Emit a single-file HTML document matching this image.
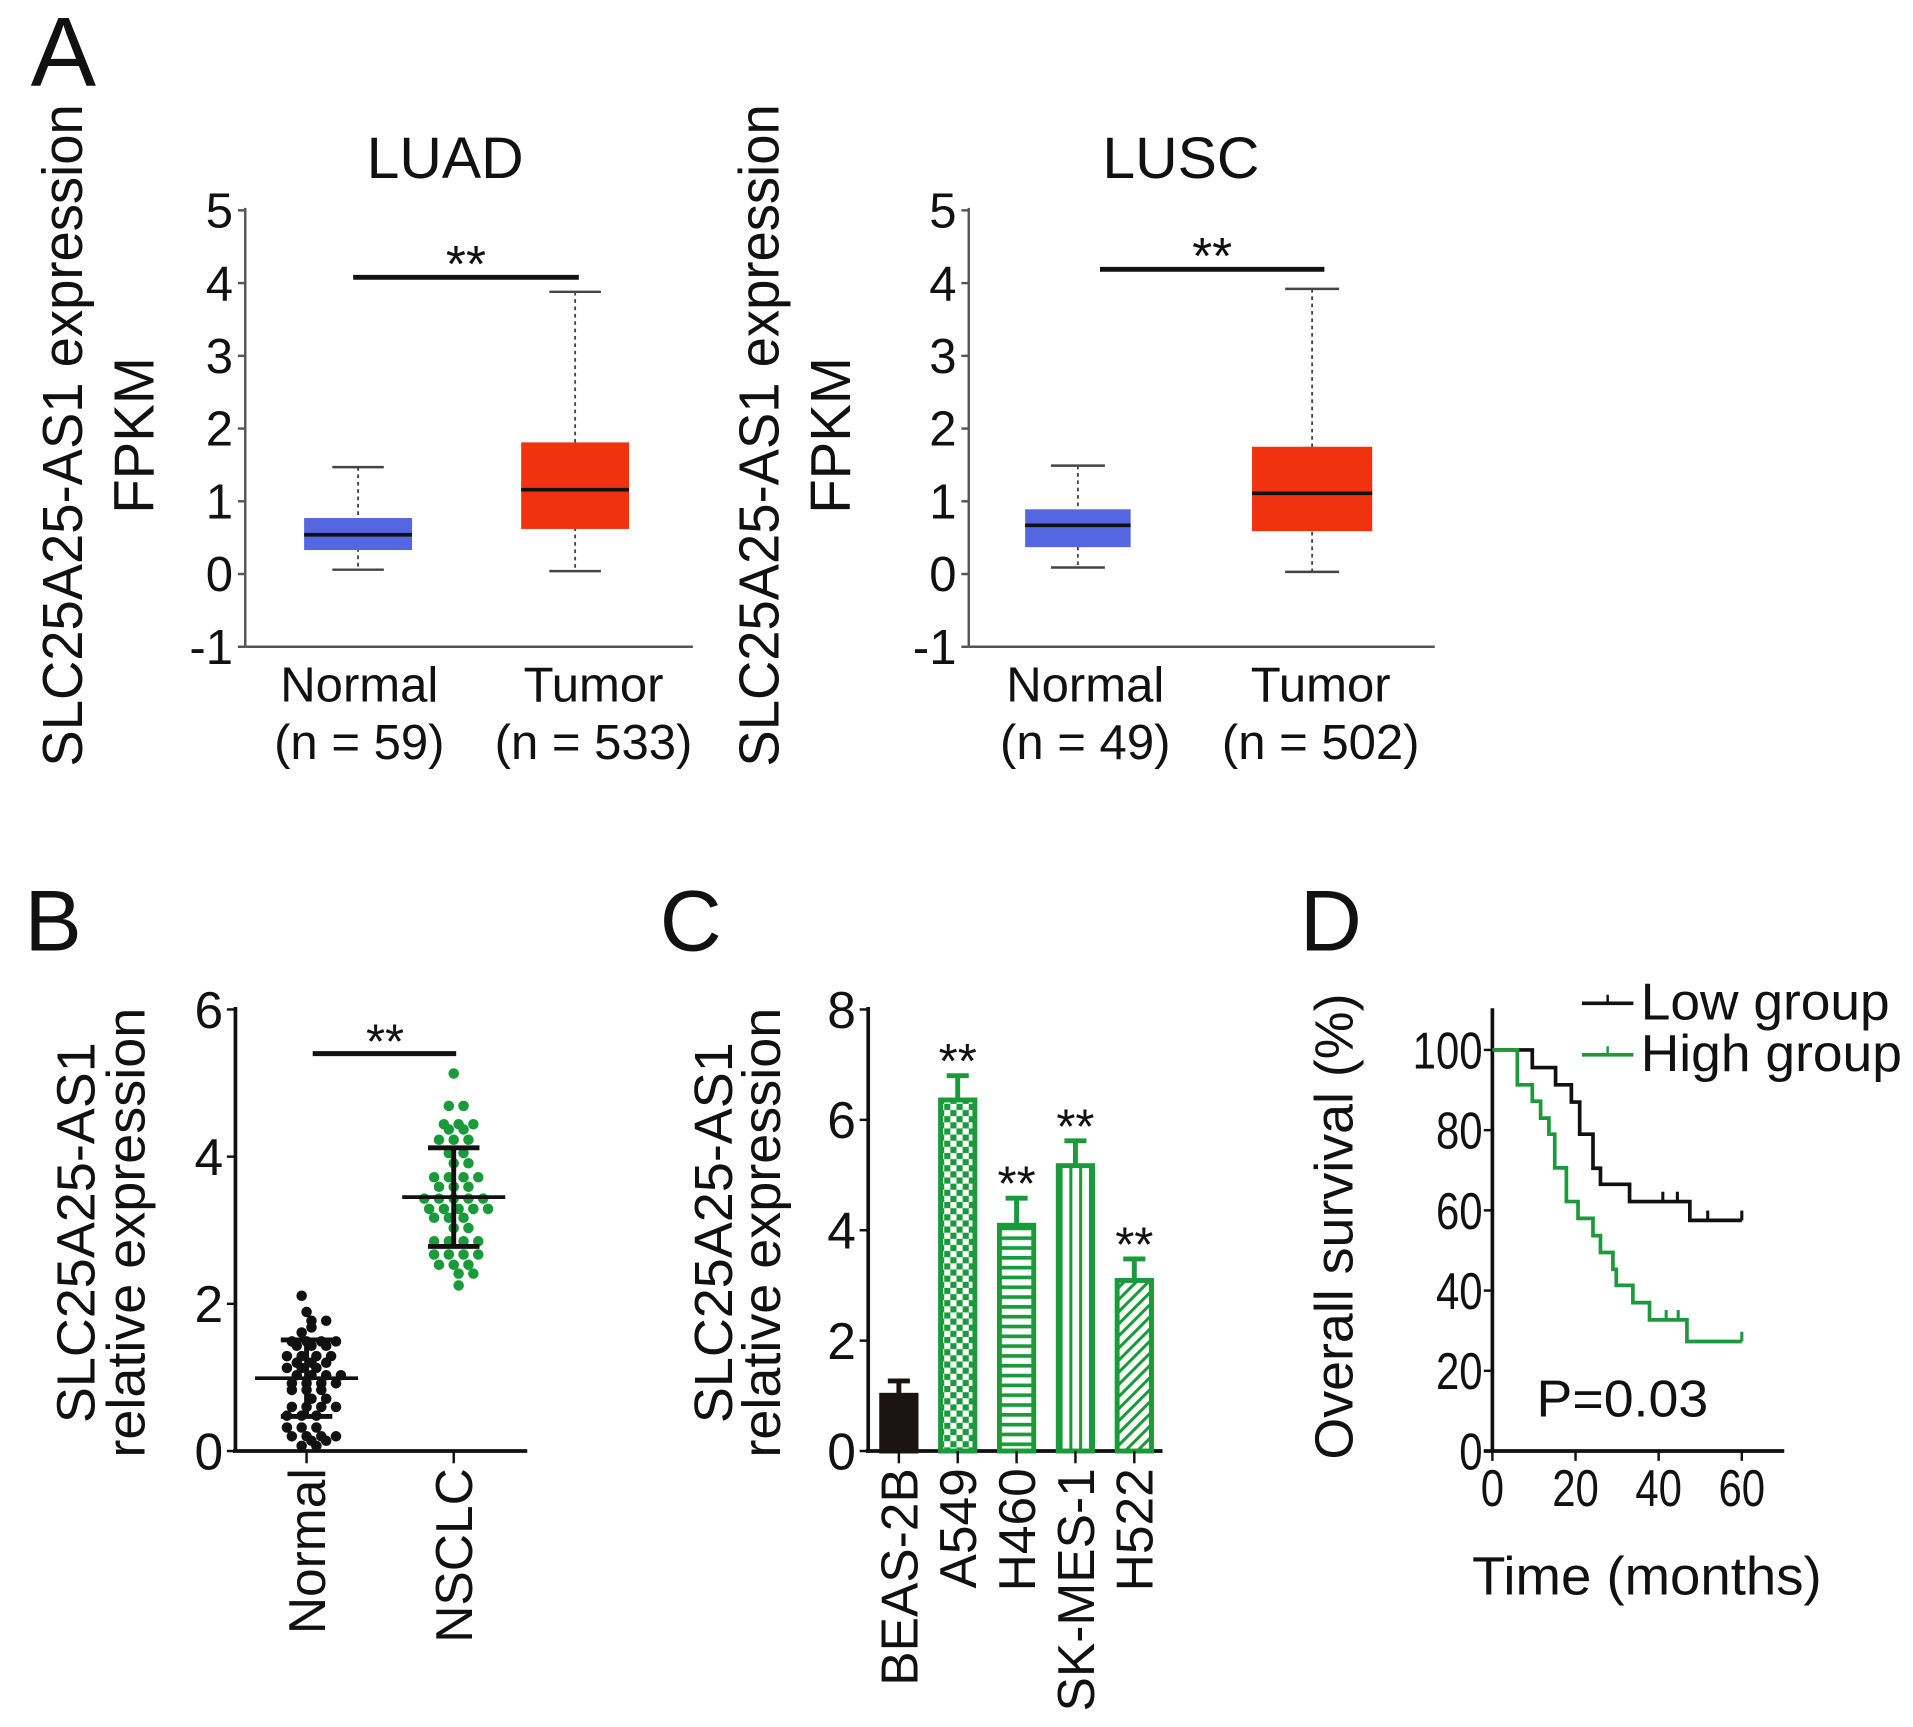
<!DOCTYPE html>
<html><head><meta charset="utf-8">
<style>
html,body{margin:0;padding:0;background:#fff;}
svg{display:block;}
text{font-family:"Liberation Sans",Arial,sans-serif;fill:#111;}
</style></head>
<body>
<svg id="fig" xmlns="http://www.w3.org/2000/svg" width="1913" height="1727" viewBox="0 0 1560 1408" preserveAspectRatio="none">
<defs>
<pattern id="pat-check" patternUnits="userSpaceOnUse" width="10" height="10"><rect width="10" height="10" fill="#fff"/><rect width="5" height="5" fill="#1a9a3a"/><rect x="5" y="5" width="5" height="5" fill="#1a9a3a"/></pattern>
<pattern id="pat-hline" patternUnits="userSpaceOnUse" width="8" height="8"><rect width="8" height="8" fill="#fff"/><rect width="8" height="3" fill="#1a9a3a"/></pattern>
<pattern id="pat-vline" patternUnits="userSpaceOnUse" width="8" height="8"><rect width="8" height="8" fill="#fff"/><rect width="2.5" height="8" fill="#1a9a3a"/></pattern>
<pattern id="pat-diag" patternUnits="userSpaceOnUse" width="7" height="7" patternTransform="rotate(45)"><rect width="7" height="7" fill="#fff"/><rect width="2.5" height="7" fill="#1a9a3a"/></pattern>
</defs>
<g id="root"></g>
</svg>
<script>
// ---------- Panel A data ----------
const aCats = ["Normal", "Tumor"];
const aCatsN1 = ["(n = 59)", "(n = 533)"];
const aCatsN2 = ["(n = 49)", "(n = 502)"];
const aTicks = [5, 4, 3, 2, 1, 0, -1];
const luadLo = [0.06, 0.04];
const luadQ1 = [0.33, 0.62];
const luadMed = [0.54, 1.16];
const luadQ3 = [0.77, 1.81];
const luadHi = [1.47, 3.88];
const luscLo = [0.09, 0.03];
const luscQ1 = [0.37, 0.59];
const luscMed = [0.67, 1.11];
const luscQ3 = [0.89, 1.75];
const luscHi = [1.49, 3.92];
const luadSig = 4.08;
const luscSig = 4.19;
// ---------- Panel B data ----------
const bCats = ["Normal", "NSCLC"];
const bTicks = [0, 2, 4, 6];
const bNormal = [2.11,1.89,1.77,1.77,1.68,1.61,1.49,1.49,1.49,1.49,1.43,1.43,1.43,1.29,1.29,1.29,1.29,1.2,1.2,1.2,1.13,1.13,1.13,1.03,1.03,1.03,1.03,0.92,0.92,0.92,0.92,0.83,0.83,0.83,0.71,0.71,0.6,0.6,0.6,0.6,0.48,0.48,0.48,0.32,0.32,0.32,0.2,0.2,0.2,0.2,0.14,0.14,0.07,0.07];
const bNSCLC = [5.13,4.69,4.69,4.44,4.44,4.44,4.37,4.37,4.23,4.23,4.23,4.05,4.05,3.91,3.91,3.72,3.72,3.72,3.72,3.59,3.59,3.59,3.43,3.43,3.43,3.43,3.43,3.29,3.29,3.29,3.29,3.29,3.17,3.17,3.17,3.03,3.03,2.85,2.85,2.85,2.85,2.67,2.67,2.67,2.67,2.53,2.53,2.53,2.41,2.41,2.25];
const bMean = [0.99, 3.45];
const bSD = [0.52, 0.67];
const bSig = 5.4;
// ---------- Panel C data ----------
const cCats = ["BEAS-2B", "A549", "H460", "SK-MES-1", "H522"];
const cVals = [1.01, 6.36, 4.09, 5.17, 3.09];
const cErr = [0.26, 0.44, 0.49, 0.45, 0.39];
const cTicks = [0, 2, 4, 6, 8];
// ---------- Panel D data ----------
const dTicksY = [0, 20, 40, 60, 80, 100];
const dTicksX = [0, 20, 40, 60];
const lowT = [0, 9.6, 15.2, 19, 21, 24.2, 26, 33, 47.5, 60];
const lowS = [100, 95.6, 91.3, 87, 79, 70.5, 66.5, 62.2, 57.5, 57.5];
const lowCens = [41, 44.5, 51.8, 60];
const highT = [0, 6, 9.6, 11.6, 13.6, 15, 17.8, 20.6, 24.2, 26, 29, 29.8, 33.8, 37.8, 46.8, 60];
const highS = [100, 91.3, 87.2, 83, 79, 70.6, 62.2, 58, 53.7, 49.5, 45.3, 41.3, 37, 32.7, 27.3, 27.3];
const highCens = [41.8, 44.7, 60];

const NS = "http://www.w3.org/2000/svg";
const root = document.getElementById("root");
function el(tag, attrs, parent) {
  const e = document.createElementNS(NS, tag);
  for (const k in attrs) e.setAttribute(k, attrs[k]);
  (parent || root).appendChild(e);
  return e;
}
function txt(s, attrs, parent) { const t = el("text", attrs, parent); t.textContent = s; return t; }

// ---------- Panel letters ----------
[["A",25,70,80],["B",20,775,70],["C",538,775,70],["D",1060,775,70]].forEach(p => {
  const t = txt(p[0], {x:p[1], y:p[2], "font-size":p[3]});
  
  
});

// ---------- Panel A box plots ----------
function boxPanel(o) {
  const g = el("g", {});
  
  
  const y = v => 468 - 59.3 * v;
  const ax = el("line", {x1:o.ax, y1:y(5)-2, x2:o.ax, y2:y(-1), stroke:"#555", "stroke-width":2}, g);
  
  
  const xa = el("line", {x1:o.ax, y1:y(-1), x2:o.axEnd, y2:y(-1), stroke:"#555", "stroke-width":2}, g);
  
  
  aTicks.forEach(t => {
    el("line", {x1:o.ax-6, y1:y(t), x2:o.ax, y2:y(t), stroke:"#555", "stroke-width":2}, g);
    const tl = txt(String(t), {x:o.ax-10, y:y(t)+14, "font-size":40, "text-anchor":"end"}, g);
    
    
  });
  const colors = ["#5567e0", "#f0320f"];
  aCats.forEach((c, i) => {
    const [x0, x1] = o.box[i], cx = (x0 + x1) / 2, cw = o.cap[i];
    const w1 = el("line", {x1:cx, y1:y(o.hi[i]), x2:cx, y2:y(o.lo[i]), stroke:"#444", "stroke-width":1.5, "stroke-dasharray":"3,3"}, g);
    
    
    el("line", {x1:cx-cw, y1:y(o.hi[i]), x2:cx+cw, y2:y(o.hi[i]), stroke:"#444", "stroke-width":2}, g);
    el("line", {x1:cx-cw, y1:y(o.lo[i]), x2:cx+cw, y2:y(o.lo[i]), stroke:"#444", "stroke-width":2}, g);
    const b = el("rect", {x:x0, y:y(o.q3[i]), width:x1-x0, height:y(o.q1[i])-y(o.q3[i]), fill:colors[i]}, g);
    
    
    el("line", {x1:x0, y1:y(o.med[i]), x2:x1, y2:y(o.med[i]), stroke:"#111", "stroke-width":3}, g);
    const l1 = txt(c, {x:o.lab[i], y:572, "font-size":40, "text-anchor":"middle"}, g);
    
    
    const l2 = txt(o.ns[i], {x:o.lab[i], y:619, "font-size":40, "text-anchor":"middle"}, g);
    
    
  });
  const s = el("line", {x1:o.sig[0], y1:y(o.sigV), x2:o.sig[1], y2:y(o.sigV), stroke:"#111", "stroke-width":4}, g);
  
  
  txt("**", {x:(o.sig[0]+o.sig[1])/2, y:y(o.sigV)+4, "font-size":42, "text-anchor":"middle"}, g);
  const tt = txt(o.title, {x:o.titleX, y:145, "font-size":48, "text-anchor":"middle"}, g);
  
  
  const yt = txt("SLC25A25-AS1 expression", {transform:`translate(${o.ytx},355) rotate(-90)`, "font-size":46, "text-anchor":"middle", textLength:540, lengthAdjust:"spacingAndGlyphs"}, g);
  
  
  const yt2 = txt("FPKM", {transform:`translate(${o.ytx+58},355) rotate(-90)`, "font-size":46, "text-anchor":"middle"}, g);
  
  
}
boxPanel({name:"luad-boxplot", ax:200, axEnd:565, box:[[248,336],[425,513]], cap:[21,21], lab:[293,484], ns:aCatsN1,
  lo:luadLo, q1:luadQ1, med:luadMed, q3:luadQ3, hi:luadHi, sig:[288,472], sigV:luadSig, title:"LUAD", titleX:363, ytx:67});
boxPanel({name:"lusc-boxplot", ax:790, axEnd:1170, box:[[836,922],[1021,1119]], cap:[22,22], lab:[885,1077], ns:aCatsN2,
  lo:luscLo, q1:luscQ1, med:luscMed, q3:luscQ3, hi:luscHi, sig:[897,1080], sigV:luscSig, title:"LUSC", titleX:963, ytx:635});

// ---------- Panel B scatter ----------
(function(){
  const g = el("g", {});
  
  
  const y = v => 1183 - 60 * v;
  const cx = [250, 370];
  el("line", {x1:192, y1:y(6)-2, x2:192, y2:y(0), stroke:"#111", "stroke-width":3}, g);
  el("line", {x1:190, y1:y(0), x2:430, y2:y(0), stroke:"#111", "stroke-width":3}, g);
  bTicks.forEach(t => {
    el("line", {x1:185, y1:y(t), x2:192, y2:y(t), stroke:"#111", "stroke-width":2}, g);
    const tl = txt(String(t), {x:182, y:y(t)+15, "font-size":42, "text-anchor":"end"}, g);
    
    
  });
  [bNormal, bNSCLC].forEach((arr, gi) => {
    const col = gi ? "#1a9a3a" : "#111";
    const counts = {};
    arr.forEach(v => {
      const k = v.toFixed(2); counts[k] = (counts[k] || 0);
      const n = counts[k]++;
      const off = (n % 2 ? 1 : -1) * Math.ceil(n / 2) * 12 + ((Math.round(v * 37) % 3) - 1) * 4;
      const d = el("circle", {cx:cx[gi] + off, cy:y(v), r:4.3, fill:col}, g);
      
      
    });
    el("line", {x1:cx[gi], y1:y(bMean[gi]+bSD[gi]), x2:cx[gi], y2:y(bMean[gi]-bSD[gi]), stroke:"#111", "stroke-width":4}, g);
    el("line", {x1:cx[gi]-21, y1:y(bMean[gi]+bSD[gi]), x2:cx[gi]+21, y2:y(bMean[gi]+bSD[gi]), stroke:"#111", "stroke-width":4}, g);
    el("line", {x1:cx[gi]-21, y1:y(bMean[gi]-bSD[gi]), x2:cx[gi]+21, y2:y(bMean[gi]-bSD[gi]), stroke:"#111", "stroke-width":4}, g);
    const m = el("line", {x1:cx[gi]-42, y1:y(bMean[gi]), x2:cx[gi]+42, y2:y(bMean[gi]), stroke:"#111", "stroke-width":3}, g);
    
    
    el("line", {x1:cx[gi], y1:y(0), x2:cx[gi], y2:y(0)+10, stroke:"#111", "stroke-width":2}, g);
    const xl = txt(bCats[gi], {transform:`translate(${cx[gi]+15},${y(0)+14}) rotate(-90)`, "font-size":42, "text-anchor":"end"}, g);
    
    
  });
  el("line", {x1:255, y1:y(bSig), x2:372, y2:y(bSig), stroke:"#111", "stroke-width":4}, g);
  txt("**", {x:314, y:y(bSig)+4, "font-size":40, "text-anchor":"middle"}, g);
  const t1 = txt("SLC25A25-AS1", {transform:"translate(77,1005) rotate(-90)", "font-size":44, "text-anchor":"middle"}, g);
  
  
  txt("relative expression", {transform:"translate(118,1005) rotate(-90)", "font-size":44, "text-anchor":"middle"}, g);
})();

// ---------- Panel C bar chart ----------
(function(){
  const g = el("g", {});
  
  
  const y = v => 1183 - 45 * v;
  const x = i => 733 + i * 48;
  const fills = ["#1b1414", "url(#pat-check)", "url(#pat-hline)", "url(#pat-vline)", "url(#pat-diag)"];
  el("line", {x1:708, y1:y(8)-2, x2:708, y2:y(0), stroke:"#111", "stroke-width":3}, g);
  el("line", {x1:706, y1:y(0), x2:948, y2:y(0), stroke:"#111", "stroke-width":3}, g);
  cTicks.forEach(t => {
    el("line", {x1:701, y1:y(t), x2:708, y2:y(t), stroke:"#111", "stroke-width":2}, g);
    const tl = txt(String(t), {x:698, y:y(t)+15, "font-size":42, "text-anchor":"end"}, g);
    
    
  });
  cCats.forEach((c, i) => {
    const col = i ? "#1a9a3a" : "#1b1414";
    el("line", {x1:x(i), y1:y(cVals[i]), x2:x(i), y2:y(cVals[i]+cErr[i]), stroke:col, "stroke-width":4}, g);
    el("line", {x1:x(i)-9, y1:y(cVals[i]+cErr[i]), x2:x(i)+9, y2:y(cVals[i]+cErr[i]), stroke:col, "stroke-width":4}, g);
    const b = el("rect", {x:x(i)-14, y:y(cVals[i]), width:28, height:y(0)-y(cVals[i]), fill:fills[i], stroke:col, "stroke-width":4}, g);
    
    
    if (i) txt("**", {x:x(i), y:y(cVals[i]+cErr[i])+2, "font-size":40, "text-anchor":"middle"}, g);
    el("line", {x1:x(i), y1:y(0), x2:x(i), y2:y(0)+10, stroke:"#111", "stroke-width":2}, g);
    const xl = txt(c, {transform:`translate(${x(i)+15},${y(0)+14}) rotate(-90)`, "font-size":42, "text-anchor":"end"}, g);
    
    
  });
  const t1 = txt("SLC25A25-AS1", {transform:"translate(597,1005) rotate(-90)", "font-size":44, "text-anchor":"middle"}, g);
  
  
  txt("relative expression", {transform:"translate(636,1005) rotate(-90)", "font-size":44, "text-anchor":"middle"}, g);
})();

// ---------- Panel D survival ----------
(function(){
  const g = el("g", {});
  
  
  const y = v => 1183 - 3.27 * v;
  const x = t => 1217 + 3.39 * t;
  el("line", {x1:1217, y1:822, x2:1217, y2:y(0), stroke:"#111", "stroke-width":3}, g);
  el("line", {x1:1210, y1:y(0), x2:1455, y2:y(0), stroke:"#111", "stroke-width":3}, g);
  dTicksY.forEach(t => {
    el("line", {x1:1210, y1:y(t), x2:1217, y2:y(t), stroke:"#111", "stroke-width":2}, g);
    const tl = txt(String(t), {x:1209, y:y(t)+15, "font-size":42, "text-anchor":"end", textLength:String(t).length*19, lengthAdjust:"spacingAndGlyphs"}, g);
    
    
  });
  dTicksX.forEach(t => {
    el("line", {x1:x(t), y1:y(0), x2:x(t), y2:y(0)+8, stroke:"#111", "stroke-width":2}, g);
    const tl = txt(String(t), {x:x(t), y:1228, "font-size":42, "text-anchor":"middle", textLength:String(t).length*19, lengthAdjust:"spacingAndGlyphs"}, g);
    
    
  });
  function curve(T, S, C, col, name) {
    let d = `M${x(T[0])},${y(S[0])}`;
    for (let i = 1; i < T.length; i++) d += ` H${x(T[i])} V${y(S[i])}`;
    const p = el("path", {d:d, fill:"none", stroke:col, "stroke-width":3}, g);
    
    
    C.forEach(c => {
      let s = S[0];
      for (let i = 0; i < T.length; i++) if (T[i] <= c) s = S[i];
      el("line", {x1:x(c), y1:y(s), x2:x(c), y2:y(s)-8, stroke:col, "stroke-width":2.5}, g);
    });
  }
  curve(lowT, lowS, lowCens, "#111", "low-group-curve");
  curve(highT, highS, highCens, "#1a9a3a", "high-group-curve");
  const lg1 = el("g", {}, g);
  
  
  el("line", {x1:1290, y1:818, x2:1332, y2:818, stroke:"#111", "stroke-width":3}, lg1);
  el("line", {x1:1311, y1:818, x2:1311, y2:811, stroke:"#111", "stroke-width":2}, lg1);
  txt("Low group", {x:1338, y:831, "font-size":42, textLength:203, lengthAdjust:"spacingAndGlyphs"}, lg1);
  const lg2 = el("g", {}, g);
  
  
  el("line", {x1:1290, y1:860, x2:1332, y2:860, stroke:"#1a9a3a", "stroke-width":3}, lg2);
  el("line", {x1:1311, y1:860, x2:1311, y2:853, stroke:"#1a9a3a", "stroke-width":2}, lg2);
  txt("High group", {x:1338, y:873, "font-size":42, textLength:213, lengthAdjust:"spacingAndGlyphs"}, lg2);
  const p = txt("P=0.03", {x:1253, y:1155, "font-size":42, textLength:140, lengthAdjust:"spacingAndGlyphs"}, g);
  
  
  const xt = txt("Time (months)", {x:1343, y:1300, "font-size":44, "text-anchor":"middle", textLength:285, lengthAdjust:"spacingAndGlyphs"}, g);
  
  
  const yt = txt("Overall survival (%)", {transform:"translate(1103,1000) rotate(-90)", "font-size":44, "text-anchor":"middle", textLength:380, lengthAdjust:"spacingAndGlyphs"}, g);
  
  
})();
</script>
</body></html>
